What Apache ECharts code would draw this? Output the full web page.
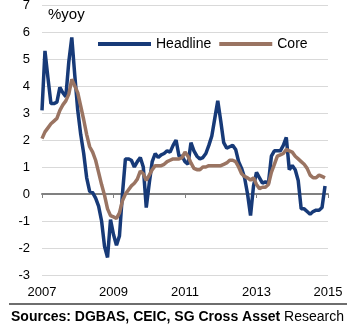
<!DOCTYPE html>
<html>
<head>
<meta charset="utf-8">
<script src="https://cdn.jsdelivr.net/npm/echarts@6/dist/echarts.min.js"></script>
<style>
html,body{margin:0;padding:0;background:#fff;}
#chart{width:352px;height:327px;}
</style>
</head>
<body>
<div id="chart"></div>
<script>
// Monthly categories Jan 2007 .. Jan 2015
var months = [];
for (var y = 2007; y <= 2015; y++) {
  for (var m = 1; m <= 12; m++) {
    if (y === 2015 && m > 1) break;
    months.push(y + '-' + (m < 10 ? '0' + m : m));
  }
}
var yTicks = [-3, -2, -1, 0, 1, 2, 3, 4, 5, 6, 7];
var headline = [
  3.1, 5.3, 4.3, 3.35, 3.35, 3.4, 3.95, 3.75, 3.6, 4.9,
  5.8, 4.4, 3.1, 2.2, 1.5, 0.6, 0.1, 0.05, -0.15, -0.45,
  -1.0, -1.95, -2.35, -0.95, -1.5, -1.9, -1.55, 0.0, 1.3, 1.3,
  1.25, 1.0, 1.2, 1.35, 1.0, -0.5, 0.4, 1.2, 1.5, 1.35,
  1.45, 1.5, 1.6, 1.55, 1.8, 2.0, 1.4, 1.4, 1.2, 1.1,
  1.9, 1.6, 1.4, 1.3, 1.35, 1.5, 1.8, 2.15, 2.8, 3.45,
  2.7, 1.9, 1.7, 1.75, 1.8, 1.65, 1.2, 0.95, 0.6, 0.0,
  -0.8, 0.3, 0.8, 0.6, 0.4, 0.45, 0.4, 1.4, 1.6, 1.6,
  1.6, 1.8, 2.1, 0.9, 1.05, 0.9, 0.5, -0.55, -0.55, -0.65,
  -0.75, -0.65, -0.6, -0.6, -0.5, 0.3
];
var core = [
  2.05, 2.3, 2.45, 2.6, 2.7, 2.8, 3.1, 3.3, 3.45, 3.7,
  4.25, 4.0, 3.75, 3.25, 2.75, 2.2, 1.75, 1.55, 1.25, 0.8,
  0.35, -0.05, -0.55, -0.8, -0.85, -0.9, -0.7, -0.25, 0.0, 0.15,
  0.3, 0.4, 0.55, 0.85, 0.75, 0.5, 0.7, 0.9, 1.05, 1.05,
  1.05, 1.1, 1.2, 1.25, 1.3, 1.3, 1.3, 1.35, 1.55, 1.4,
  1.15, 0.95, 0.9, 0.9, 1.0, 1.0, 1.05, 1.05, 1.05, 1.05,
  1.05, 1.1, 1.15, 1.25, 1.25, 1.2, 1.0, 0.75, 0.65, 0.6,
  0.52, 0.6, 0.35, 0.2, 0.25, 0.25, 0.35, 0.8, 1.1, 1.4,
  1.45, 1.5, 1.65, 1.6, 1.55, 1.4, 1.3, 1.2, 1.1, 0.95,
  0.7, 0.6, 0.6, 0.7, 0.65, 0.6
];
var seriesNames = ['Headline', 'Core'];
var unitLabel = '%yoy';
var sourceBold = 'Sources: DGBAS, CEIC, SG Cross Asset';
var sourceRest = ' Research';

var FONT = '"Liberation Sans", Arial, sans-serif';
function isLabelMonth(idx, val) {
  var v = months[idx];
  var yr = parseInt(v.slice(0, 4), 10);
  return v.slice(5) === '01' && (yr - 2007) % 2 === 0;
}

var chart = echarts.init(document.getElementById('chart'), null, {renderer: 'canvas'});
chart.setOption({
  animation: false,
  backgroundColor: '#ffffff',
  grid: {left: 42, right: 24, top: 5, bottom: 52, containLabel: false, outerBoundsMode: 'none'},
  legend: {
    data: seriesNames,
    left: 93, top: 32,
    icon: 'rect', itemWidth: 53, itemHeight: 4, itemGap: 8,
    textStyle: {fontFamily: FONT, fontSize: 14, color: '#000'}
  },
  xAxis: [
    {
      // label axis at the bottom of the plot
      type: 'category',
      data: months,
      boundaryGap: false,
      position: 'bottom',
      axisLine: {show: false, onZero: false},
      axisTick: {show: false},
      axisLabel: {
        show: true,
        interval: isLabelMonth,
        margin: 11,
        fontFamily: FONT, fontSize: 13, color: '#000',
        formatter: function (v) { return String(v).slice(0, 4); }
      },
      splitLine: {show: false}
    },
    {
      // zero line with ticks
      type: 'category',
      data: months,
      boundaryGap: false,
      position: 'top',
      axisLine: {show: true, onZero: true, lineStyle: {color: '#808080', width: 2}},
      axisTick: {show: true, inside: true, length: 4, interval: isLabelMonth, lineStyle: {color: '#808080', width: 1}},
      axisLabel: {show: false},
      splitLine: {show: false}
    }
  ],
  yAxis: {
    type: 'value',
    min: yTicks[0], max: yTicks[yTicks.length - 1], interval: 1,
    axisLine: {show: false},
    axisTick: {show: false},
    axisLabel: {margin: 12, fontFamily: FONT, fontSize: 13, color: '#000', padding: [2, 0, 0, 0]},
    splitLine: {lineStyle: {color: '#d9d9d9', width: 1}}
  },
  series: [
    {
      name: seriesNames[0], type: 'line', data: headline,
      xAxisIndex: 0,
      showSymbol: false, symbol: 'none',
      lineStyle: {color: '#173a78', width: 3.5},
      itemStyle: {color: '#173a78'}
    },
    {
      name: seriesNames[1], type: 'line', data: core,
      xAxisIndex: 0,
      showSymbol: false, symbol: 'none',
      lineStyle: {color: '#9a7462', width: 3.5},
      itemStyle: {color: '#9a7462'}
    }
  ],
  graphic: [
    {
      type: 'text', left: 48, top: 7,
      style: {text: unitLabel, font: '15px ' + FONT, fill: '#000'}
    },
    {
      type: 'line',
      shape: {x1: 9, y1: 304, x2: 347, y2: 304},
      style: {stroke: '#6e6e6e', lineWidth: 2}
    },
    {
      type: 'text', left: 11, top: 310,
      style: {
        text: '{b|' + sourceBold + '}{r|' + sourceRest + '}',
        rich: {
          b: {font: 'bold 14px ' + FONT, fill: '#000'},
          r: {font: '14px ' + FONT, fill: '#000'}
        }
      }
    }
  ]
});
</script>
</body>
</html>
